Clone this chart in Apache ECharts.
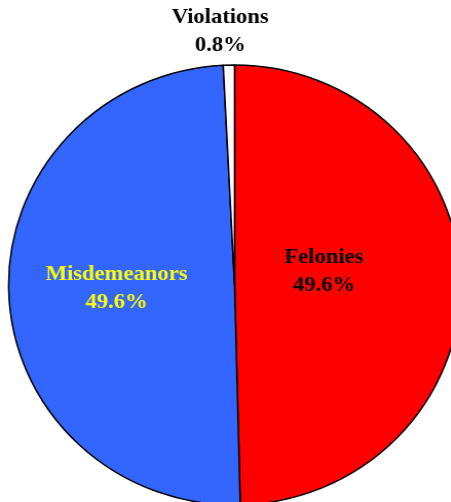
<!DOCTYPE html>
<html>
<head>
<meta charset="utf-8">
<script src="https://cdn.jsdelivr.net/npm/echarts@6/dist/echarts.min.js"></script>
<style>
  html, body { margin: 0; padding: 0; background: #fff; overflow: hidden; }
  /* the original pie is a little wider than tall */
  #pie_box { width: 439px; height: 502px; transform: scaleX(1.027); transform-origin: 0 0; }
</style>
</head>
<body>
<div id="pie_box"></div>
<script>
var categories = ['Felonies', 'Misdemeanors', 'Violations'];
var shares = [49.6, 49.6, 0.8];
var sliceColors = ['#FF0000', '#3366FF', '#FFFFFF'];
var labelColors = ['#000000', '#FFFF00', '#000000'];
// violations label sits above the pie, so it is placed from the center
var labelPositions = ['inside', 'inside', 'center'];
var labelOffsets = [[-26, -12], [-2, -1], [-14, -254]];

var seriesData = [];
for (var i = 0; i < categories.length; i++) {
  seriesData.push({
    name: categories[i],
    value: shares[i],
    itemStyle: { color: sliceColors[i] },
    label: { color: labelColors[i], position: labelPositions[i], offset: labelOffsets[i] }
  });
}

var myChart = echarts.init(document.getElementById('pie_box'));
myChart.setOption({
  animation: false,
  series: [{
    type: 'pie',
    center: [228.4, 285],
    radius: 220,
    startAngle: 90,
    clockwise: true,
    avoidLabelOverlap: false,
    itemStyle: { borderColor: '#000', borderWidth: 1.5 },
    label: {
      show: true,
      position: 'inside',
      formatter: '{b}\n{c}%',
      fontFamily: '"Liberation Serif", "Times New Roman", serif',
      fontWeight: 'bold',
      fontSize: 22,
      lineHeight: 28,
      align: 'center'
    },
    labelLine: { show: false },
    emphasis: { disabled: true },
    data: seriesData
  }]
});
</script>
</body>
</html>
